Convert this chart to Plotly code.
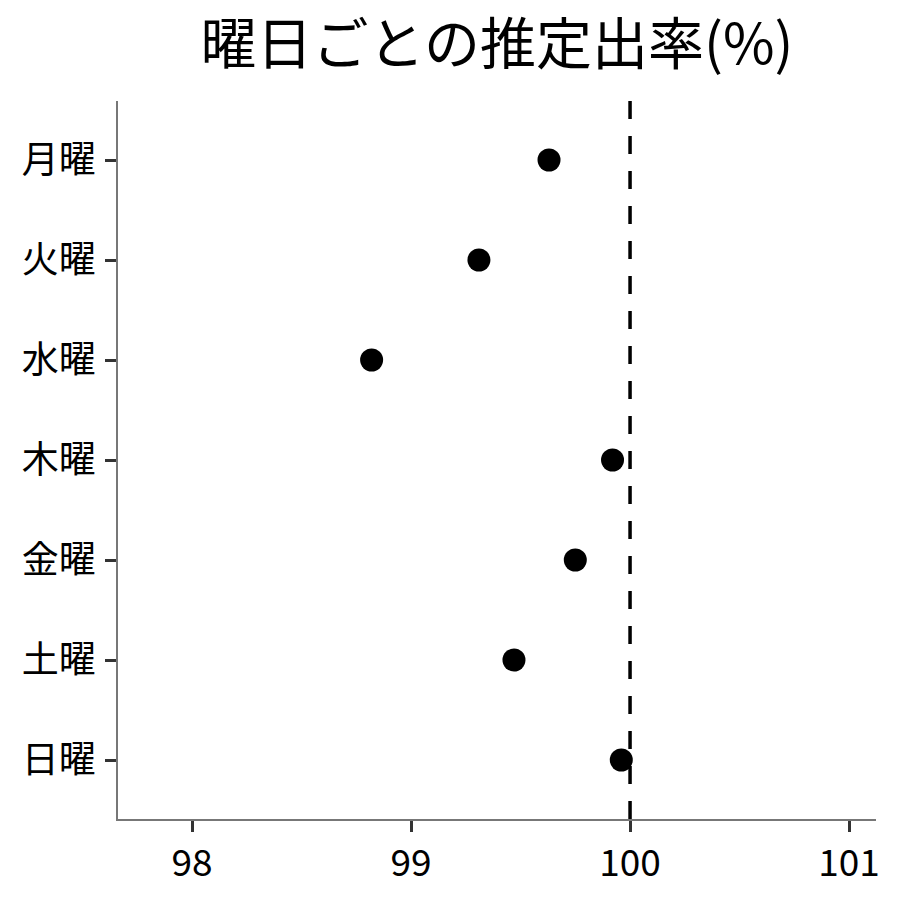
import plotly.graph_objects as go

# 曜日ごとの推定出率
days = ["月曜", "火曜", "水曜", "木曜", "金曜", "土曜", "日曜"]
rates = [99.63, 99.31, 98.82, 99.92, 99.75, 99.47, 99.96]
ref_value = 100
x_ticks = [98, 99, 100, 101]

fig = go.Figure()

fig.add_trace(go.Scatter(
    x=rates,
    y=days,
    mode="markers",
    marker=dict(size=23, color="black"),
    showlegend=False,
))

# reference line at 100%
fig.add_shape(
    type="line",
    xref="x", yref="paper",
    x0=ref_value, x1=ref_value, y0=1, y1=0,
    line=dict(color="black", width=3.5, dash="18px,17px"),
    layer="above",
)

fig.update_layout(
    width=900,
    height=900,
    margin=dict(l=110, r=32, t=93, b=89),
    paper_bgcolor="white",
    plot_bgcolor="white",
    font=dict(family="Noto Sans CJK JP", size=37, color="black"),
    title=dict(
        text="曜日ごとの推定出率(%)",
        x=0.5, xref="paper", xanchor="center",
        y=0.96, yref="container", yanchor="middle",
        font=dict(size=56, color="black"),
    ),
)

fig.update_xaxes(
    range=[97.662, 101.123],
    tickvals=x_ticks,
    ticktext=[str(v) for v in x_ticks],
    showgrid=False,
    zeroline=False,
    showline=True,
    linecolor="#777777",
    linewidth=1.5,
    ticks="outside",
    ticklen=11,
    tickwidth=3,
    tickcolor="#333333",
    tickfont=dict(size=37, color="black"),
)

fig.update_yaxes(
    type="category",
    categoryorder="array",
    categoryarray=days,
    range=[6.59, -0.59],
    showgrid=False,
    zeroline=False,
    showline=True,
    linecolor="#777777",
    linewidth=1.5,
    ticks="outside",
    ticklen=11,
    tickwidth=3,
    tickcolor="#333333",
    tickfont=dict(size=37, color="black"),
    ticklabelstandoff=2,
)

fig.write_html("out.html")
